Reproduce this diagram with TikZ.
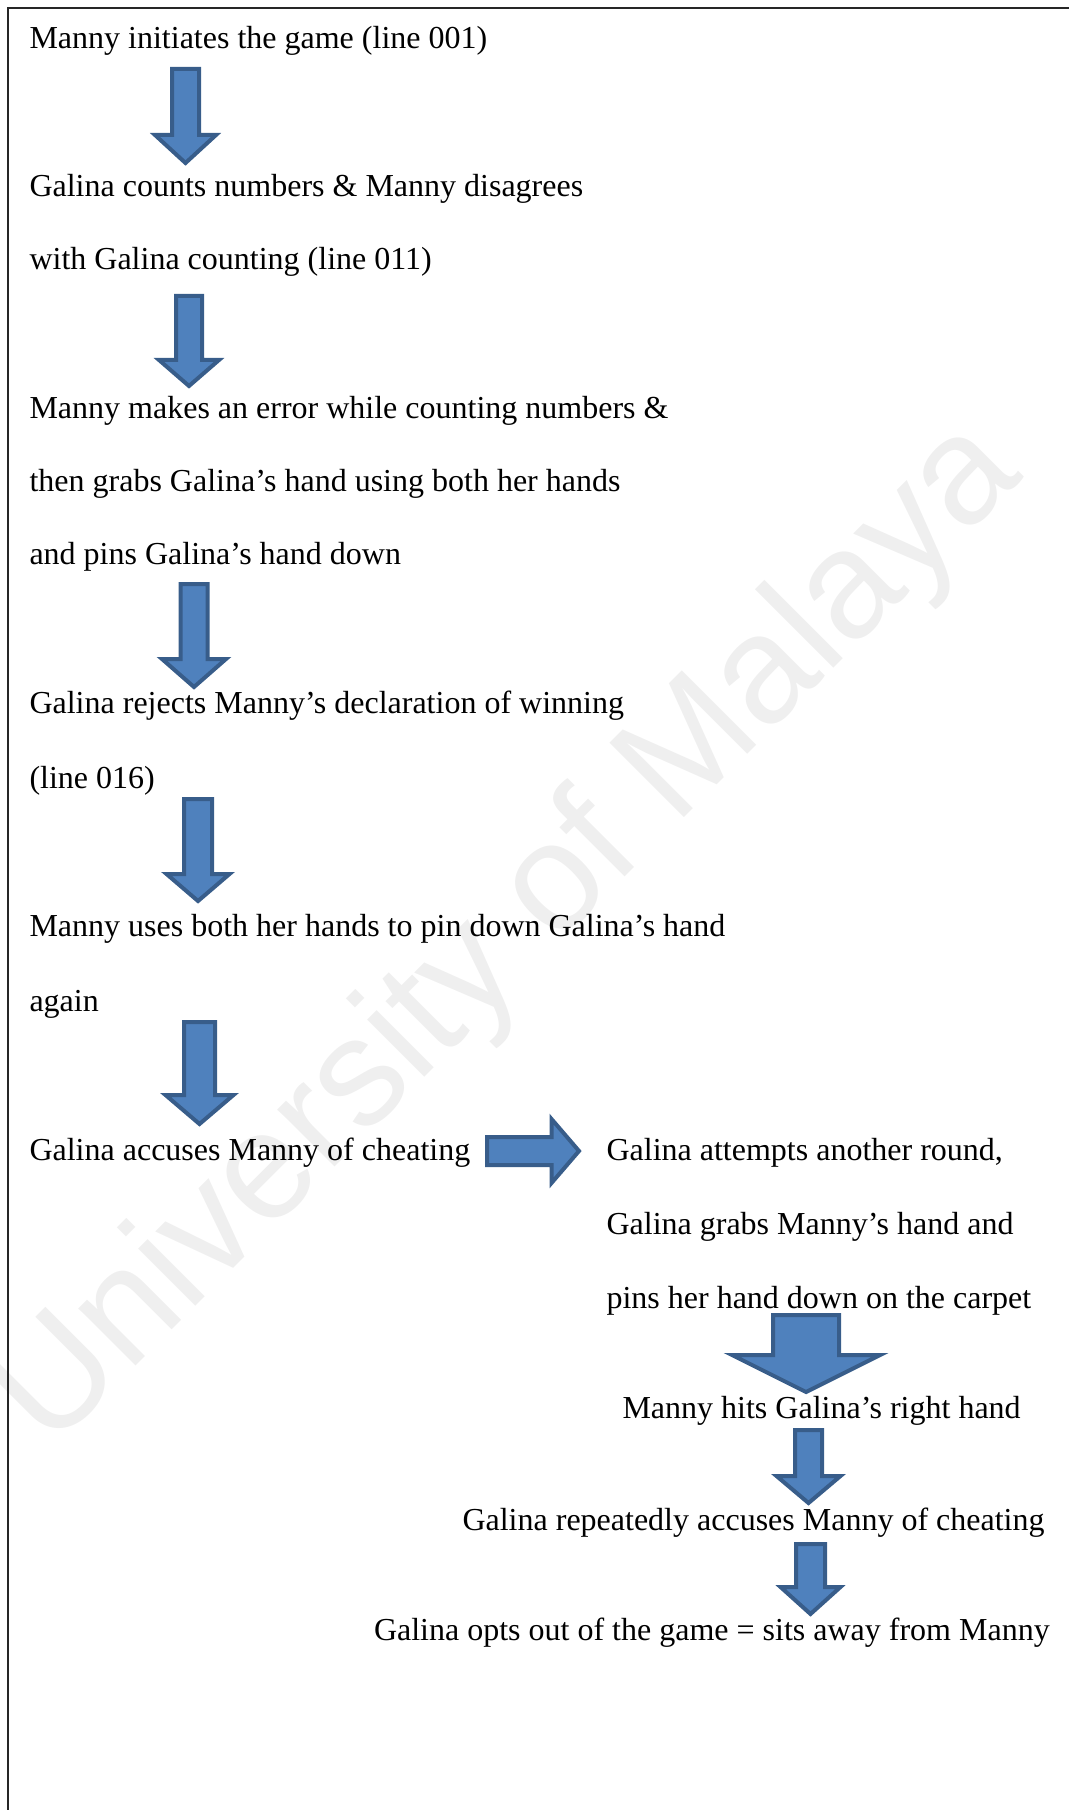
\documentclass[tikz,border=0pt]{standalone}
\usepackage{fontspec}
\setmainfont{Liberation Serif}
\newfontfamily\wmfont{Liberation Sans}
\usepackage{tikz}

\definecolor{arrowfill}{HTML}{4F81BD}
\definecolor{arrowline}{HTML}{385D8A}
\definecolor{wmgray}{RGB}{239,239,239}

\tikzset{flowtext/.style={anchor=base west, inner sep=0pt, font=\fontsize{12}{14}\selectfont}}
\tikzset{wmtext/.style={anchor=base west, inner sep=0pt, rotate=45, text=wmgray,
                        font=\wmfont\fontsize{57.4}{60}\selectfont}}
\tikzset{blockarrow/.style={fill=arrowfill, draw=arrowline, line width=1.5pt, line join=miter}}

% shaft width, head width, length, head length
\tikzset{pics/blockdown/.style n args={4}{code={
  \draw[blockarrow] (-#1/2,0) -- (#1/2,0) -- (#1/2,#3-#4) -- (#2/2,#3-#4)
                 -- (0,#3) -- (-#2/2,#3-#4) -- (-#1/2,#3-#4) -- cycle;}}}

\begin{document}
\begin{tikzpicture}[x=0.375pt, y=-0.375pt]

\def\xl{29}
\def\xr{606}

\useasboundingbox (0,0) rectangle (1069,1810);

%watermark
\node[wmtext] (wm) at (50,1452) {University of Malaya};

%frame
\draw[line width=0.75pt, black!85] (8,1810) -- (8,8) -- (1069,8);

%left column
\node[flowtext] (t1)  at (\xl,  49) {Manny initiates the game (line 001)};
\node[flowtext] (t2a) at (\xl, 197) {Galina counts numbers \& Manny disagrees};
\node[flowtext] (t2b) at (\xl, 270) {with Galina counting (line 011)};
\node[flowtext] (t3a) at (\xl, 419) {Manny makes an error while counting numbers \&};
\node[flowtext] (t3b) at (\xl, 492) {then grabs Galina’s hand using both her hands};
\node[flowtext] (t3c) at (\xl, 565) {and pins Galina’s hand down};
\node[flowtext] (t4a) at (\xl, 713) {Galina rejects Manny’s declaration of winning};
\node[flowtext] (t4b) at (\xl, 788) {(line 016)};
\node[flowtext] (t5a) at (\xl, 936) {Manny uses both her hands to pin down Galina’s hand};
\node[flowtext] (t5b) at (\xl,1011) {again};
\node[flowtext] (t6)  at (\xl,1160) {Galina accuses Manny of cheating};

%right column
\node[flowtext] (t7a) at (\xr,1160) {Galina attempts another round,};
\node[flowtext] (t7b) at (\xr,1234) {Galina grabs Manny’s hand and};
\node[flowtext] (t7c) at (\xr,1308) {pins her hand down on the carpet};
\node[flowtext] (t8)  at (622,1418) {Manny hits Galina’s right hand};
\node[flowtext] (t9)  at (462,1530) {Galina repeatedly accuses Manny of cheating};
\node[flowtext] (t10) at (373.5,1640) {Galina opts out of the game = sits away from Manny};

%arrows down the left column
\path (185.5,  69) pic{blockdown={27}{61}{94}{28}};
\path (189.0, 296) pic{blockdown={26}{60}{90}{26}};
\path (194.0, 584) pic{blockdown={27}{64}{103}{28}};
\path (198.0, 799) pic{blockdown={28}{63}{102}{27}};
\path (199.5,1022) pic{blockdown={31}{68}{102}{29}};

%arrow across
\path (487,1151) pic[rotate=90]{blockdown={28}{64}{92}{27.5}};

%arrows down the right column
\path (806.0,1315) pic{blockdown={66}{148}{77}{37}};
\path (808.5,1430) pic{blockdown={27}{64}{73}{27}};
\path (810.5,1544) pic{blockdown={29}{60}{70}{27}};

\end{tikzpicture}
\end{document}
